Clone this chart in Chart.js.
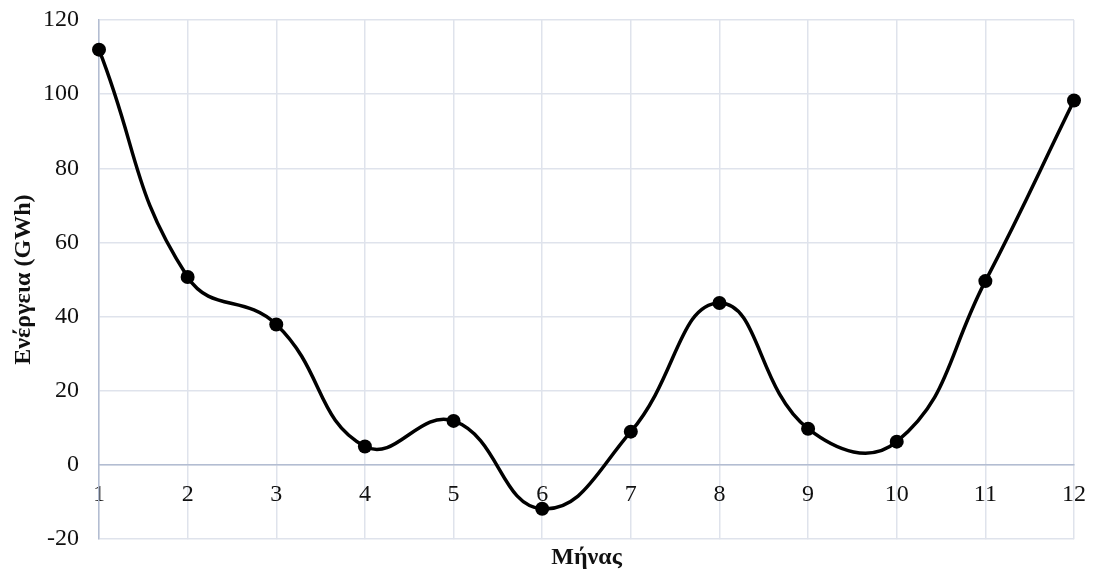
<!DOCTYPE html>
<html>
<head>
<meta charset="utf-8">
<script src="https://cdn.jsdelivr.net/npm/chart.js@4"></script>
<style>
html, body { margin: 0; padding: 0; background: #fff; }
#wrap { width: 1094px; height: 576px; }
</style>
</head>
<body>
<div id="wrap"><canvas id="energyChart"></canvas></div>
<script>
const months = ["1", "2", "3", "4", "5", "6", "7", "8", "9", "10", "11", "12"];
const energy = [112, 50.7, 37.9, 5.0, 11.9, -11.8, 9.0, 43.7, 9.8, 6.3, 49.6, 98.3];
const yMin = -20;
const yMax = 120;
const yStep = 20;

const serif = "'Liberation Serif', 'Times New Roman', serif";
const textColor = "#111";
const gridColor = "#dfe3ec";
const axisColor = "#b3bdd2";

new Chart(document.getElementById("energyChart"), {
    type: "line",
    data: {
        labels: months,
        datasets: [{
            label: "Ενέργεια",
            data: energy,
            borderColor: "#000",
            borderWidth: 3.5,
            tension: 0.45,
            pointRadius: 7,
            pointBackgroundColor: "#000",
            pointBorderWidth: 0,
            clip: false
        }]
    },
    options: {
        responsive: true,
        maintainAspectRatio: false,
        animation: false,
        devicePixelRatio: 1,
        layout: { padding: { top: 20, right: 20, left: 0, bottom: 0 } },
        plugins: {
            legend: { display: false },
            tooltip: { enabled: false },
            title: {
                display: true,
                text: "Μήνας",
                position: "bottom",
                fullSize: false,
                color: textColor,
                font: { family: serif, size: 24, weight: "bold", lineHeight: 1.2 },
                padding: { top: 4, bottom: 4 }
            }
        },
        scales: {
            x: {
                type: "category",
                position: { y: 0 },
                offset: false,
                grid: { color: gridColor, lineWidth: 1.5, drawTicks: false },
                border: { color: axisColor, width: 1.5 },
                ticks: {
                    padding: 15,
                    color: textColor,
                    font: { family: serif, size: 24 },
                    maxRotation: 0,
                    autoSkip: false
                },
                afterFit: (scale) => { scale.paddingLeft = 0; scale.paddingRight = 0; }
            },
            y: {
                min: yMin,
                max: yMax,
                grid: { color: gridColor, lineWidth: 1.5, drawTicks: false },
                border: { color: axisColor, width: 1.5 },
                ticks: {
                    stepSize: yStep,
                    padding: 20,
                    color: textColor,
                    font: { family: serif, size: 24 }
                },
                title: {
                    display: true,
                    text: "Ενέργεια (GWh)",
                    color: textColor,
                    font: { family: serif, size: 24, weight: "bold" },
                    padding: { top: 9, bottom: 0 }
                },
                afterFit: (scale) => {
                    scale.width = 99;
                    scale.paddingTop = 0;
                    scale.paddingBottom = 0;
                }
            }
        }
    }
});
</script>
</body>
</html>
